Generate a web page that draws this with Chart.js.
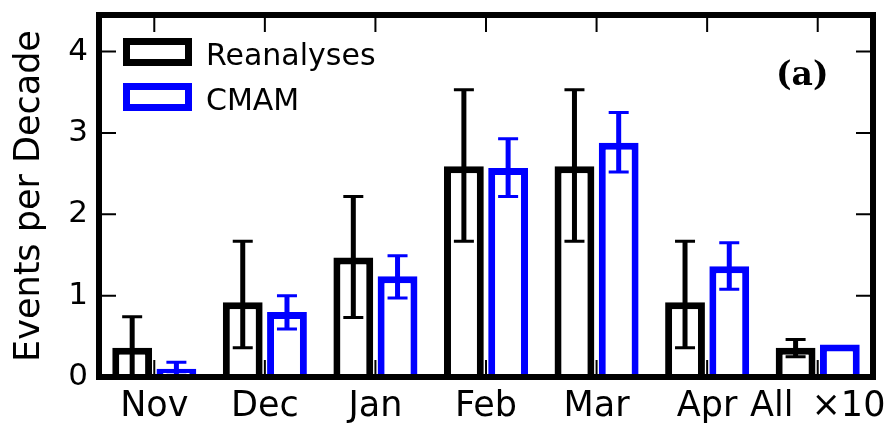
<!DOCTYPE html>
<html>
<head>
<meta charset="utf-8">
<script src="https://cdn.jsdelivr.net/npm/chart.js@4.4.0/dist/chart.umd.min.js"></script>
<style>
  html, body { margin: 0; padding: 0; background: #fff; }
  #wrap { width: 886px; height: 427px; }
</style>
</head>
<body>
<div id="wrap"><canvas id="myChart"></canvas></div>
<script>
const months = ['Nov', 'Dec', 'Jan', 'Feb', 'Mar', 'Apr', 'All \u2009\u00d710']
const yTicks = [0, 1, 2, 3, 4]

// Reanalyses (black)
const reanalyses = [0.36, 0.92, 1.47, 2.59, 2.59, 0.92, 0.36]
const reanalysesLow = [0.0, 0.36, 0.73, 1.67, 1.67, 0.36, 0.25]
const reanalysesHigh = [0.74, 1.67, 2.22, 3.53, 3.53, 1.67, 0.46]

// CMAM (blue)
const cmam = [0.10, 0.80, 1.24, 2.57, 2.88, 1.36, 0.40]
const cmamLow = [0.02, 0.59, 0.97, 2.22, 2.52, 1.08, null]
const cmamHigh = [0.18, 1.00, 1.49, 2.93, 3.25, 1.65, null]

const FONT = "'DejaVu Sans', sans-serif"

const errorBars = {
    id: 'errorBars',
    afterDatasetsDraw(chart) {
        const ctx = chart.ctx
        const yScale = chart.scales.y
        chart.data.datasets.forEach((ds, i) => {
            const meta = chart.getDatasetMeta(i)
            meta.data.forEach((bar, j) => {
                const lo = ds.errLow[j]
                const hi = ds.errHigh[j]
                if (lo == null || hi == null) return
                const x = bar.x
                const y1 = yScale.getPixelForValue(lo)
                const y2 = yScale.getPixelForValue(hi)
                ctx.save()
                ctx.strokeStyle = ds.borderColor
                ctx.lineWidth = 5
                ctx.beginPath()
                ctx.moveTo(x, y1)
                ctx.lineTo(x, y2)
                ctx.stroke()
                ctx.lineWidth = 3
                ctx.beginPath()
                ctx.moveTo(x - 10, y1); ctx.lineTo(x + 10, y1)
                ctx.moveTo(x - 10, y2); ctx.lineTo(x + 10, y2)
                ctx.stroke()
                ctx.restore()
            })
        })
    }
}

// frame, inward ticks, legend and panel label
const frame = {
    id: 'frame',
    afterDraw(chart) {
        const ctx = chart.ctx
        const a = chart.chartArea
        const x = chart.scales.x
        const y = chart.scales.y
        ctx.save()
        ctx.strokeStyle = '#000'
        ctx.lineWidth = 2
        ctx.beginPath()
        yTicks.forEach(v => {
            const py = y.getPixelForValue(v)
            ctx.moveTo(a.left, py); ctx.lineTo(a.left + 17, py)
            ctx.moveTo(a.right, py); ctx.lineTo(a.right - 17, py)
        })
        months.forEach((m, i) => {
            const px = x.getPixelForValue(i)
            ctx.moveTo(px, a.top); ctx.lineTo(px, a.top + 17)
            ctx.moveTo(px, a.bottom); ctx.lineTo(px, a.bottom - 17)
        })
        ctx.stroke()

        ctx.lineWidth = 6
        ctx.strokeRect(a.left, a.top, a.right - a.left, a.bottom - a.top)

        // legend
        ctx.lineWidth = 7
        ctx.font = '30px ' + FONT
        ctx.textAlign = 'left'
        ctx.textBaseline = 'alphabetic'
        chart.data.datasets.forEach((ds, i) => {
            const top = 38 + i * 45
            ctx.strokeStyle = ds.borderColor
            ctx.strokeRect(126.5, top + 3.5, 62, 21)
            ctx.fillStyle = '#000'
            ctx.fillText(ds.label, 206, top + 27)
        })

        ctx.font = "bold 33px 'DejaVu Serif', serif"
        ctx.fillText('(a)', 776, 85)
        ctx.restore()
    }
}

const chart1 = document.getElementById('myChart')
const myChart = new Chart(chart1, {
    type: 'bar',
    data: {
        labels: months,
        datasets: [{
            label: 'Reanalyses',
            data: reanalyses,
            errLow: reanalysesLow,
            errHigh: reanalysesHigh,
            backgroundColor: '#ffffff',
            borderColor: '#000000',
            borderWidth: 7
        }, {
            label: 'CMAM',
            data: cmam,
            errLow: cmamLow,
            errHigh: cmamHigh,
            backgroundColor: '#ffffff',
            borderColor: '#0000ff',
            borderWidth: 7
        }]
    },
    options: {
        responsive: true,
        maintainAspectRatio: false,
        animation: false,
        categoryPercentage: 0.8,
        barPercentage: 0.9,
        layout: { padding: { top: 15, right: 13, left: 0, bottom: 0 } },
        plugins: {
            legend: { display: false },
            tooltip: { enabled: false }
        },
        scales: {
            x: {
                offset: true,
                grid: { display: false, drawTicks: false },
                border: { display: false },
                ticks: {
                    color: '#000',
                    font: { family: FONT, size: 35 },
                    padding: 9,
                    maxRotation: 0,
                    autoSkip: false
                },
                afterFit: s => {
                    s.height = 50
                    s.paddingLeft = 0
                    s.paddingRight = 0
                }
            },
            y: {
                min: 0,
                max: 4.45,
                grid: { display: false, drawTicks: false },
                border: { display: false },
                ticks: {
                    color: '#000',
                    font: { family: FONT, size: 31 },
                    padding: 11
                },
                afterBuildTicks: s => { s.ticks = yTicks.map(v => ({ value: v })) },
                title: {
                    display: true,
                    text: 'Events per Decade',
                    color: '#000',
                    font: { family: FONT, size: 35 },
                    padding: { top: 9, bottom: 0 }
                },
                afterFit: s => {
                    s.width = 99
                    s.paddingTop = 0
                    s.paddingBottom = 0
                }
            }
        }
    },
    plugins: [errorBars, frame]
})
</script>
</body>
</html>
